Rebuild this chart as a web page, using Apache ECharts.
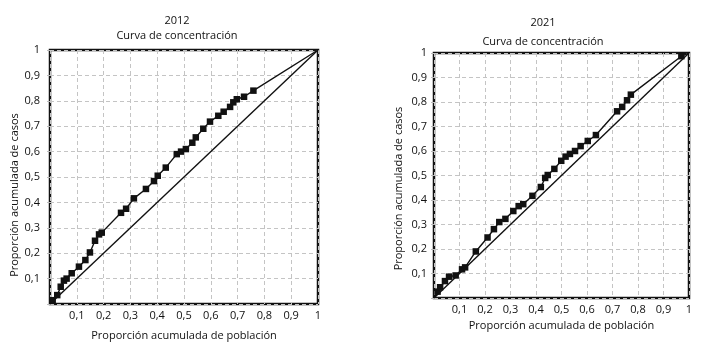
<!DOCTYPE html>
<html>
<head>
<meta charset="utf-8">
<script src="https://cdn.jsdelivr.net/npm/echarts@6/dist/echarts.min.js"></script>
<style>
  html, body { margin: 0; background: #fff; }
  #chart { width: 707px; height: 347px; }
</style>
</head>
<body>
<div id="chart"></div>
<script>
// tick labels 0..1 (0 is not printed)
const tickLabels = ['', '0,1', '0,2', '0,3', '0,4', '0,5', '0,6', '0,7', '0,8', '0,9', '1'];

// 2012 concentration curve: cumulative population share vs cumulative case share
const pop2012 = [0, 0.01, 0.027, 0.04, 0.052, 0.062, 0.081, 0.108, 0.132, 0.149, 0.168, 0.183, 0.193,
  0.265, 0.284, 0.313, 0.358, 0.388, 0.402, 0.432, 0.473, 0.489, 0.507, 0.531, 0.544, 0.572, 0.597,
  0.628, 0.648, 0.672, 0.684, 0.697, 0.724, 0.759, 1];
const cases2012 = [0, 0.015, 0.035, 0.068, 0.092, 0.10, 0.121, 0.147, 0.173, 0.203, 0.249, 0.274, 0.281,
  0.359, 0.375, 0.416, 0.453, 0.484, 0.505, 0.537, 0.59, 0.60, 0.61, 0.635, 0.656, 0.69, 0.718,
  0.741, 0.757, 0.776, 0.794, 0.806, 0.816, 0.84, 1];

// 2021 concentration curve
const pop2021 = [0, 0.014, 0.024, 0.043, 0.059, 0.085, 0.11, 0.122, 0.164, 0.21, 0.235, 0.256, 0.28,
  0.311, 0.332, 0.35, 0.386, 0.419, 0.436, 0.446, 0.472, 0.499, 0.516, 0.533, 0.553, 0.575, 0.603,
  0.635, 0.718, 0.738, 0.757, 0.772, 0.97, 1];
const cases2021 = [0, 0.026, 0.044, 0.069, 0.087, 0.092, 0.117, 0.125, 0.19, 0.247, 0.281, 0.31, 0.323,
  0.355, 0.375, 0.383, 0.417, 0.453, 0.49, 0.502, 0.527, 0.56, 0.577, 0.588, 0.60, 0.62, 0.641,
  0.665, 0.762, 0.78, 0.807, 0.83, 0.987, 1];

// line of equality
const equality = [0, 1];

const font = 'Open Sans';
const ink = '#111';

const chart = echarts.init(document.getElementById('chart'));

function axisX(gridIndex, gap) {
  return {
    type: 'value', gridIndex, min: 0, max: 1, interval: 0.1,
    name: 'Proporción acumulada de población',
    nameLocation: 'middle', nameGap: gap,
    nameTextStyle: { fontFamily: font, fontSize: 11, color: ink },
    axisLine: { show: false },
    axisTick: { show: false },
    axisLabel: {
      margin: 6, fontFamily: font, fontSize: 11, color: ink,
      formatter: v => tickLabels[Math.round(v * 10)]
    },
    splitLine: { lineStyle: { type: [4, 3], color: '#c4c4c4', width: 1 } }
  };
}

function axisY(gridIndex, gap, margin, shift) {
  return {
    type: 'value', gridIndex, min: 0, max: 1, interval: 0.1,
    name: 'Proporción acumulada de casos',
    nameLocation: 'middle', nameGap: gap,
    // right padding pushes the rotated name a little lower, as in the original
    nameTextStyle: { fontFamily: font, fontSize: 11, color: ink, padding: [0, shift, 0, 0] },
    axisLine: { show: false },
    axisTick: { show: true, length: 3, lineStyle: { color: '#bbb' } },
    axisLabel: {
      margin: margin, fontFamily: font, fontSize: 11, color: ink,
      formatter: v => tickLabels[Math.round(v * 10)]
    },
    splitLine: { lineStyle: { type: [4, 3], color: '#c4c4c4', width: 1 } }
  };
}

function curve(idx, xs, ys) {
  return {
    type: 'line', xAxisIndex: idx, yAxisIndex: idx,
    data: xs.map((x, i) => [x, ys[i]]),
    symbol: 'rect',
    symbolSize: v => (v[0] === 0 || v[0] === 1) ? 0 : 6.5,
    lineStyle: { color: ink, width: 1.4 },
    itemStyle: { color: ink },
    z: 3
  };
}

function diagonal(idx) {
  return {
    type: 'line', xAxisIndex: idx, yAxisIndex: idx,
    data: equality.map(v => [v, v]),
    symbol: 'none',
    lineStyle: { color: ink, width: 1.4 },
    z: 2
  };
}

chart.setOption({
  animation: false,
  textStyle: { fontFamily: font },
  title: [
    {
      text: '2012\nCurva de concentración', left: 172, top: 8, textAlign: 'center',
      textStyle: { fontFamily: font, fontSize: 11, fontWeight: 'normal', color: ink, lineHeight: 15 }
    },
    {
      text: '2021\nCurva de concentración', left: 538, top: 8, textAlign: 'center',
      textStyle: { fontFamily: font, fontSize: 11, fontWeight: 'normal', color: ink, lineHeight: 19 }
    }
  ],
  grid: [
    { left: 50, top: 50, width: 268, height: 254, show: true, borderColor: '#111', borderWidth: 2.5 },
    { left: 434, top: 53, width: 255, height: 245, show: true, borderColor: '#111', borderWidth: 2.5 }
  ],
  xAxis: [axisX(0, 26), axisX(1, 22)],
  yAxis: [axisY(0, 30, 10, 36), axisY(1, 30, 7, 26)],
  series: [
    diagonal(0),
    curve(0, pop2012, cases2012),
    diagonal(1),
    curve(1, pop2021, cases2021)
  ]
});
</script>
</body>
</html>
